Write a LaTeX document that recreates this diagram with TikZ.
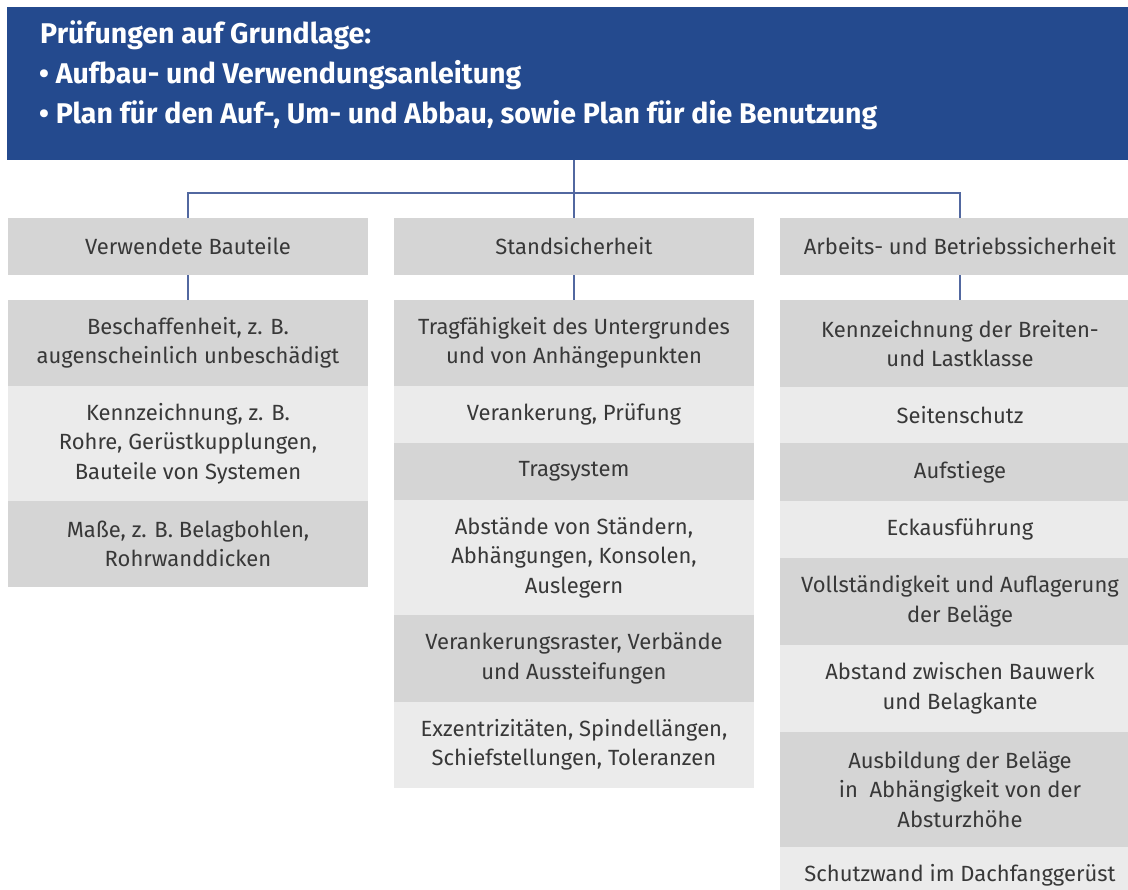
\documentclass[tikz,border=0pt]{standalone}
\usepackage{fontspec}
\setmainfont{Fira Sans}
\definecolor{hdrblue}{HTML}{244A8E}
\definecolor{dk}{HTML}{D5D5D5}
\definecolor{lt}{HTML}{EBEBEB}
\definecolor{txt}{HTML}{383838}
\definecolor{conn}{HTML}{5268A0}
\tikzset{
  box/.style={rectangle, inner sep=0pt, minimum width=360pt, align=center,
    text=txt, font=\fontsize{22}{29.5}\selectfont},
  dkbox/.style={box, fill=dk},
  ltbox/.style={box, fill=lt},
  htext/.style={anchor=base west, text=white, inner sep=0pt,
    font=\fontsize{28.5}{32}\selectfont\bfseries},
  conline/.style={draw=conn, line width=1.4pt}
}
\begin{document}
\begin{tikzpicture}[x=1pt,y=-1pt]
\useasboundingbox (0,0) rectangle (1128,890);
\clip (0,0) rectangle (1128,890);
\fill[white] (0,0) rectangle (1128,890);
% header
\node[rectangle, fill=hdrblue, inner sep=0pt, minimum width=1121pt, minimum height=153pt] (hdr) at (567.5,83.5) {};
\node[htext] (t1) at (40,44) {Prüfungen auf Grundlage:};
\node[htext] (t2) at (39,84) {• Aufbau- und Verwendungsanleitung};
\node[htext] (t3) at (39,124) {• Plan für den Auf-, Um- und Abbau, sowie Plan für die Benutzung};
% column headers
\node[dkbox, minimum height=57pt] (h1) at (188,246.5) {Verwendete Bauteile};
\node[dkbox, minimum height=57pt] (h2) at (574,246.5) {Standsicherheit};
\node[dkbox, minimum height=57pt] (h3) at (960,246.5) {Arbeits- und Betriebssicherheit};
% left column
\node[dkbox, minimum height=86pt] (l1) at (188,343) {Beschaffenheit, z. B.\\augenscheinlich unbeschädigt};
\node[ltbox, minimum height=115pt] (l2) at (188,443.5) {Kennzeichnung, z. B.\\Rohre, Gerüstkupplungen,\\Bauteile von Systemen};
\node[dkbox, minimum height=86pt] (l3) at (188,544) {Maße, z. B. Belagbohlen,\\Rohrwanddicken};
% middle column
\node[dkbox, minimum height=86pt] (m1) at (574,343) {Tragfähigkeit des Untergrundes\\und von Anhängepunkten};
\node[ltbox, minimum height=57pt] (m2) at (574,414.5) {Verankerung, Prüfung};
\node[dkbox, minimum height=57pt] (m3) at (574,471.5) {Tragsystem};
\node[ltbox, minimum height=115pt] (m4) at (574,557.5) {Abstände von Ständern,\\Abhängungen, Konsolen,\\Auslegern};
\node[dkbox, minimum height=87pt] (m5) at (574,658.5) {Verankerungsraster, Verbände\\und Aussteifungen};
\node[ltbox, minimum height=86pt] (m6) at (574,745) {Exzentrizitäten, Spindellängen,\\Schiefstellungen, Toleranzen};
% right column
\node[dkbox, minimum height=87pt] (r1) at (960,343.5) {Kennzeichnung der Breiten-\\und Lastklasse};
\node[ltbox, minimum height=56pt] (r2) at (960,415) {Seitenschutz};
\node[dkbox, minimum height=58pt] (r3) at (960,472) {Aufstiege};
\node[ltbox, minimum height=57pt] (r4) at (960,529.5) {Eckausführung};
\node[dkbox, minimum height=87pt] (r5) at (960,601.5) {Vollständigkeit und Auflagerung\\der Beläge};
\node[ltbox, minimum height=87pt] (r6) at (960,688.5) {Abstand zwischen Bauwerk\\und Belagkante};
\node[dkbox, minimum height=115pt] (r7) at (960,789.5) {Ausbildung der Beläge\\in~ Abhängigkeit von der\\Absturzhöhe};
\node[ltbox, minimum height=57pt] (r8) at (960,875.5) {Schutzwand im Dachfanggerüst};
% connectors
\coordinate (bar) at (574,193);
\draw[conline] (hdr.south -| h2.north) -- (h2.north);
\draw[conline] (h1.north) |- (bar) -| (h3.north);
\draw[conline] (h1.south) -- (l1.north);
\draw[conline] (h2.south) -- (m1.north);
\draw[conline] (h3.south) -- (r1.north);
\end{tikzpicture}
\end{document}
